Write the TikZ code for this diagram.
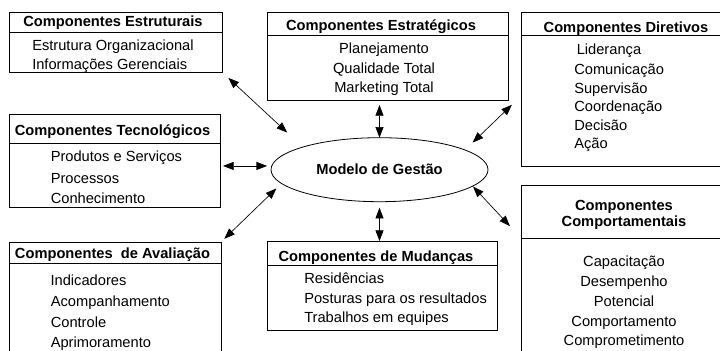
\documentclass[tikz,border=0pt]{standalone}
\usepackage{fontspec}
\setmainfont{Liberation Sans}
\usetikzlibrary{arrows.meta,shapes.geometric}

\begin{document}
\begin{tikzpicture}[x=0.75pt,y=0.75pt,yscale=-1,xscale=1,
  compbox/.style={draw, line width=0.6pt, rectangle, inner sep=0pt, outer sep=0pt, anchor=north west},
  boxtitle/.style={font=\bfseries\fontsize{11}{13}\selectfont, inner sep=0pt, anchor=base},
  boxitem/.style={font=\fontsize{11}{13}\selectfont, inner sep=0pt, anchor=base west},
  linkarrow/.style={{Triangle[length=8pt,width=6pt]}-{Triangle[length=8pt,width=6pt]}, line width=0.5pt}]
%set diagram left start at 0, and has height of 350
\clip (0,0) rectangle (720,350);

%Shape: Ellipse
\node[draw, ellipse, line width=0.6pt, inner sep=0pt, outer sep=0pt, minimum width=162.75pt, minimum height=48pt, font=\bfseries\fontsize{11}{13}\selectfont] (modelo) at (379.5,169.7) {Modelo de Gestão};

%Shape: Rectangle
\node[compbox, minimum width=159.75pt, minimum height=45pt] (estr) at (9,12) {};
%Shape: Rectangle
\node[compbox, minimum width=180.75pt, minimum height=66pt] (strat) at (267,12) {};
%Shape: Rectangle
\node[compbox, minimum width=164.25pt, minimum height=115.5pt] (dir) at (521,12) {};
%Shape: Rectangle
\node[compbox, minimum width=158.25pt, minimum height=69.75pt] (tec) at (9,114) {};
%Shape: Rectangle
\node[compbox, minimum width=159pt, minimum height=96pt] (aval) at (9,242) {};
%Shape: Rectangle
\node[compbox, minimum width=172.5pt, minimum height=66.75pt] (mud) at (267,241) {};
%Shape: Rectangle
\node[compbox, minimum width=164.25pt, minimum height=138.75pt] (comp) at (521,185) {};

%Straight Lines (yshift is flipped by yscale=-1, so positive goes down)
\draw[line width=0.6pt] ([yshift=15pt]estr.north west) -- ([yshift=15pt]estr.north east);
%Straight Lines
\draw[line width=0.6pt] ([yshift=17.25pt]strat.north west) -- ([yshift=17.25pt]strat.north east);
%Straight Lines
\draw[line width=0.6pt] ([yshift=17.25pt]dir.north west) -- ([yshift=17.25pt]dir.north east);
%Straight Lines
\draw[line width=0.6pt] ([yshift=21.75pt]tec.north west) -- ([yshift=21.75pt]tec.north east);
%Straight Lines
\draw[line width=0.6pt] ([yshift=15.75pt]aval.north west) -- ([yshift=15.75pt]aval.north east);
%Straight Lines
\draw[line width=0.6pt] ([yshift=18pt]mud.north west) -- ([yshift=18pt]mud.north east);
%Straight Lines
\draw[line width=0.6pt] ([yshift=39.75pt]comp.north west) -- ([yshift=39.75pt]comp.north east);

%Straight Lines
\draw[linkarrow, shorten <=6.5pt, shorten >=16pt] (estr.south east) -- (modelo.north west);
%Straight Lines
\draw[linkarrow, shorten <=3.75pt] (modelo.north |- strat.south) -- (modelo.north);
%Straight Lines
\draw[linkarrow, shorten <=9.5pt, shorten >=8pt] ([yshift=5.25pt]dir.west) -- (modelo.13);
%Straight Lines
\draw[linkarrow, shorten <=2.25pt, shorten >=3.5pt] (modelo.178 -| tec.east) -- (modelo.178);
%Straight Lines
\draw[linkarrow, shorten <=3.4pt, shorten >=5.4pt] (aval.north east) -- (modelo.188);
%Straight Lines
\draw[linkarrow, shorten <=4.5pt] (modelo.south) -- (modelo.south |- mud.north);
%Straight Lines
\draw[linkarrow, shorten <=0.5pt, shorten >=12.2pt] (modelo.350) -- ([yshift=39.75pt]comp.north west);

% Text Node
\node[boxtitle] (estrT) at (113,26.5) {Componentes Estruturais};
% Text Node
\node[boxitem] (estr1) at (32,50.5) {Estrutura Organizacional};
% Text Node
\node[boxitem] (estr2) at (32,69.2) {Informações Gerenciais};

% Text Node
\node[boxtitle] (stratT) at (381,30.5) {Componentes Estratégicos};
% Text Node
\node[boxitem, anchor=base] (strat1) at (384,53.8) {Planejamento};
% Text Node
\node[boxitem, anchor=base] (strat2) at (384,73) {Qualidade Total};
% Text Node
\node[boxitem, anchor=base] (strat3) at (384,92.3) {Marketing Total};

% Text Node
\node[boxtitle] (dirT) at (626,32) {Componentes Diretivos};
% Text Node
\node[boxitem] (dir1) at (576.5,54) {Liderança};
% Text Node
\node[boxitem] (dir2) at (574,74) {Comunicação};
% Text Node
\node[boxitem] (dir3) at (574,93) {Supervisão};
% Text Node
\node[boxitem] (dir4) at (574,111.2) {Coordenação};
% Text Node
\node[boxitem] (dir5) at (574,130) {Decisão};
% Text Node
\node[boxitem] (dir6) at (574,148) {Ação};

% Text Node
\node[boxtitle] (tecT) at (112.5,135.5) {Componentes Tecnológicos};
% Text Node
\node[boxitem] (tec1) at (50.5,161.7) {Produtos e Serviços};
% Text Node
\node[boxitem] (tec2) at (50.5,183.2) {Processos};
% Text Node
\node[boxitem] (tec3) at (50.5,203.8) {Conhecimento};

% Text Node
\node[boxtitle] (avalT) at (112.5,258.8) {Componentes~ de Avaliação};
% Text Node
\node[boxitem] (aval1) at (50.3,285.5) {Indicadores};
% Text Node
\node[boxitem] (aval2) at (50.5,306.5) {Acompanhamento};
% Text Node
\node[boxitem] (aval3) at (50.5,327.2) {Controle};
% Text Node
\node[boxitem] (aval4) at (50.5,347.2) {Aprimoramento};

% Text Node
\node[boxtitle] (mudT) at (376,261.2) {Componentes de Mudanças};
% Text Node
\node[boxitem] (mud1) at (304,283.8) {Residências};
% Text Node
\node[boxitem] (mud2) at (304,303.8) {Posturas para os resultados};
% Text Node
\node[boxitem] (mud3) at (304,322.2) {Trabalhos em equipes};

% Text Node
\node[boxtitle] (compT1) at (624,210.5) {Componentes};
% Text Node
\node[boxtitle] (compT2) at (624,226) {Comportamentais};
% Text Node
\node[boxitem, anchor=base] (comp1) at (624,266.5) {Capacitação};
% Text Node
\node[boxitem, anchor=base] (comp2) at (624,286.5) {Desempenho};
% Text Node
\node[boxitem, anchor=base] (comp3) at (624,306.5) {Potencial};
% Text Node
\node[boxitem, anchor=base] (comp4) at (624,326.5) {Comportamento};
% Text Node
\node[boxitem, anchor=base] (comp5) at (624,345) {Comprometimento};

\end{tikzpicture}
\end{document}
